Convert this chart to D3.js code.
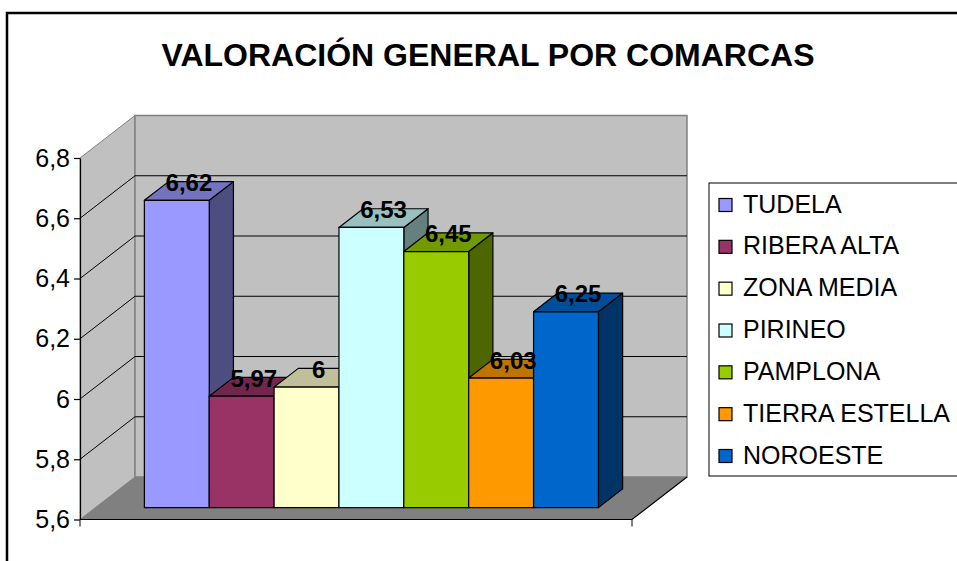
<!DOCTYPE html>
<html>
<head>
<meta charset="utf-8">
<script src="https://cdn.jsdelivr.net/npm/d3@7"></script>
<style>
  body { margin: 0; background: #fff; }
  svg { display: block; font-family: "Liberation Sans", Arial, sans-serif; }
</style>
</head>
<body>
<svg id="chart" width="957" height="561"></svg>
<script>
// data
const comarcas = ['TUDELA', 'RIBERA ALTA', 'ZONA MEDIA', 'PIRINEO', 'PAMPLONA', 'TIERRA ESTELLA', 'NOROESTE'];
const valores = [6.62, 5.97, 6.00, 6.53, 6.45, 6.03, 6.25];
const colores = ['#9999FF', '#993366', '#FFFFCC', '#CCFFFF', '#99CC00', '#FF9900', '#0066CC'];
const yTicks = [5.6, 5.8, 6.0, 6.2, 6.4, 6.6, 6.8];
const titulo = 'VALORACIÓN GENERAL POR COMARCAS';

const WIDTH = 957, HEIGHT = 561;
const DX = 55, DY = 42.5;          // depth offset of the back wall
const Z_FRONT = 0.28, Z_BACK = 0.72; // depth of the bars
const fmt = (d) => String(+d.toFixed(2)).replace('.', ',');

const svg = d3.select('#chart');

// outer frame (runs off the right/bottom edge)
svg.append('rect')
    .attr('x', 7).attr('y', 13)
    .attr('width', WIDTH).attr('height', HEIGHT)
    .attr('fill', 'none').attr('stroke', '#000').attr('stroke-width', 2.5);

svg.append('text')
    .attr('x', 488).attr('y', 66)
    .attr('text-anchor', 'middle')
    .style('font-size', '32px').style('font-weight', 'bold')
    .text(titulo);

// scales //
const yScale = d3.scaleLinear().domain([5.6, 6.8]).range([519.5, 158]);
const xScale = d3.scaleBand().domain(comarcas).range([80, 632])
    .paddingInner(0).paddingOuter(0.755);
const bw = xScale.bandwidth();

const x0 = xScale.range()[0], x1 = xScale.range()[1];
const yMin = yScale.domain()[0], yMax = yScale.domain()[1];

// project a point (front x, value, depth 0..1) to the screen
const P = (x, v, z) => [x + z * DX, yScale(v) - z * DY];
const poly = (pts) => pts.map((p) => p.join(',')).join(' ');

// walls and floor //
const walls = svg.append('g');

walls.append('polygon') // side wall
    .attr('points', poly([P(x0, yMin, 0), P(x0, yMax, 0), P(x0, yMax, 1), P(x0, yMin, 1)]))
    .attr('fill', '#C0C0C0').attr('stroke', '#808080');

walls.append('polygon') // back wall
    .attr('points', poly([P(x0, yMin, 1), P(x0, yMax, 1), P(x1, yMax, 1), P(x1, yMin, 1)]))
    .attr('fill', '#C0C0C0').attr('stroke', '#808080').attr('stroke-width', 1.5);

walls.append('polygon') // floor
    .attr('points', poly([P(x0, yMin, 0), P(x1, yMin, 0), P(x1, yMin, 1), P(x0, yMin, 1)]))
    .attr('fill', '#808080');

// gridlines
const grid = yTicks.filter((d) => d > yMin + 1e-9 && d < yMax - 1e-9);
walls.selectAll('.grid')
    .data(grid)
    .enter()
    .append('polyline')
    .attr('points', (d) => poly([P(x0, d, 0), P(x0, d, 1), P(x1, d, 1)]))
    .attr('fill', 'none').attr('stroke', '#000').attr('stroke-width', 1);

// floor front and right edges, category axis ticks
walls.append('polyline')
    .attr('points', poly([P(x0, yMin, 0), P(x1, yMin, 0), P(x1, yMin, 1)]))
    .attr('fill', 'none').attr('stroke', '#000').attr('stroke-width', 1.2);
[x0, x1].forEach((x) => {
    walls.append('line')
        .attr('x1', x).attr('x2', x)
        .attr('y1', yScale(yMin)).attr('y2', yScale(yMin) + 7)
        .attr('stroke', '#000');
});

// y-axis //
svg.append('g')
    .attr('transform', `translate(${x0}, 0)`)
    .call(d3.axisLeft(yScale).tickValues(yTicks).tickSize(6).tickSizeOuter(0)
        .tickPadding(4).tickFormat(fmt))
    .call((g) => g.selectAll('path, line').attr('stroke', '#000').attr('stroke-width', 1.2))
    .call((g) => g.selectAll('text')
        .attr('fill', '#000')
        .style('font-size', '25px')
        .style('font-family', '"Liberation Sans", Arial, sans-serif'));

// bars //
const shade = (c, k) => {
    const r = d3.rgb(c);
    return d3.rgb(r.r * k, r.g * k, r.b * k).formatHex();
};

const dataset = comarcas.map((name, i) => ({ name: name, value: valores[i], color: colores[i] }));

const bars = svg.append('g')
    .selectAll('g')
    .data(dataset)
    .enter()
    .append('g');

bars.append('polygon') // side face
    .attr('points', (d) => {
        const xr = xScale(d.name) + bw;
        return poly([P(xr, yMin, Z_FRONT), P(xr, d.value, Z_FRONT), P(xr, d.value, Z_BACK), P(xr, yMin, Z_BACK)]);
    })
    .attr('fill', (d) => shade(d.color, 0.5))
    .attr('stroke', '#000').attr('stroke-width', 1.2).attr('stroke-linejoin', 'round');

bars.append('polygon') // top face
    .attr('points', (d) => {
        const xl = xScale(d.name), xr = xl + bw;
        return poly([P(xl, d.value, Z_FRONT), P(xr, d.value, Z_FRONT), P(xr, d.value, Z_BACK), P(xl, d.value, Z_BACK)]);
    })
    .attr('fill', (d) => shade(d.color, 0.75))
    .attr('stroke', '#000').attr('stroke-width', 1.2).attr('stroke-linejoin', 'round');

bars.append('polygon') // front face
    .attr('points', (d) => {
        const xl = xScale(d.name), xr = xl + bw;
        return poly([P(xl, yMin, Z_FRONT), P(xl, d.value, Z_FRONT), P(xr, d.value, Z_FRONT), P(xr, yMin, Z_FRONT)]);
    })
    .attr('fill', (d) => d.color)
    .attr('stroke', '#000').attr('stroke-width', 1.2).attr('stroke-linejoin', 'round');

// value labels, on the middle of each top face
const zMid = (Z_FRONT + Z_BACK) / 2;
svg.append('g')
    .selectAll('text')
    .data(dataset)
    .enter()
    .append('text')
    .attr('x', (d) => P(xScale(d.name) + bw / 2, d.value, zMid)[0])
    .attr('y', (d) => P(xScale(d.name) + bw / 2, d.value, zMid)[1])
    .attr('text-anchor', 'middle')
    .style('font-size', '24px').style('font-weight', 'bold')
    .text((d) => fmt(d.value));

// legend //
const legend = svg.append('g');
legend.append('rect')
    .attr('x', 709).attr('y', 183)
    .attr('width', 260).attr('height', 293)
    .attr('fill', '#fff').attr('stroke', '#000');

const rowY = d3.scalePoint().domain(comarcas).range([212.5, 463.5]);

const items = legend.selectAll('.item')
    .data(dataset)
    .enter()
    .append('g')
    .attr('transform', (d) => `translate(0, ${rowY(d.name)})`);

items.append('rect')
    .attr('x', 719).attr('y', -14)
    .attr('width', 13).attr('height', 13)
    .attr('fill', (d) => d.color)
    .attr('stroke', '#000').attr('stroke-width', 1.2);

items.append('text')
    .attr('x', 743).attr('y', 0)
    .style('font-size', '25px')
    .text((d) => d.name);
</script>
</body>
</html>
